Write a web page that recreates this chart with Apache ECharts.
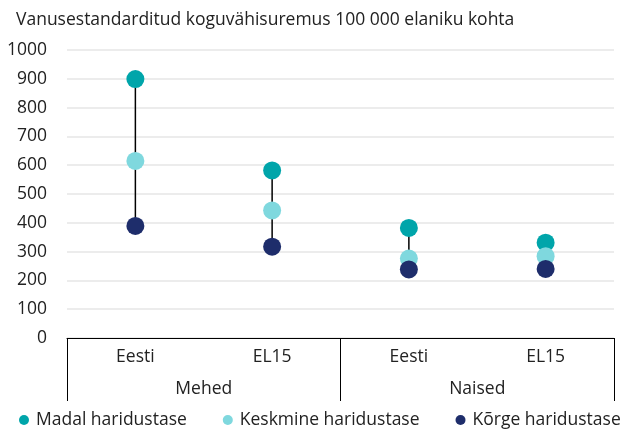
<!DOCTYPE html>
<html>
<head>
<meta charset="utf-8">
<script src="https://cdn.jsdelivr.net/npm/echarts@6/dist/echarts.min.js"></script>
<style>
  html, body { margin: 0; padding: 0; background: #fff; }
  #chart { width: 629px; height: 436px; }
</style>
</head>
<body>
<div id="chart"></div>
<script>
const countries = ['Eesti', 'EL15', 'Eesti', 'EL15'];
const groups = ['Mehed', 'Naised'];
const yTicks = [0, 100, 200, 300, 400, 500, 600, 700, 800, 900, 1000];

const madal = [899, 582, 382, 331];
const keskmine = [615, 443, 276, 284];
const korge = [389, 317, 238, 240];

const names = ['Madal haridustase', 'Keskmine haridustase', 'Kõrge haridustase'];
const colors = ['#00a5aa', '#7fd8de', '#1e2d6b'];

const font = 'Open Sans';
const fs = 17.5;

const ranges = countries.map((c, i) => {
  const v = [madal[i], keskmine[i], korge[i]];
  return [i, Math.min(...v), Math.max(...v)];
});

const chart = echarts.init(document.getElementById('chart'));

const option = {
  animation: false,
  textStyle: { fontFamily: font },
  title: {
    text: 'Vanusestandarditud koguvähisuremus 100 000 elaniku kohta',
    left: 11,
    top: 6,
    textStyle: { fontFamily: font, fontSize: fs, fontWeight: 'normal', color: '#222' }
  },
  legend: {
    bottom: 2,
    left: 14,
    icon: 'circle',
    itemWidth: 10,
    itemHeight: 10,
    itemGap: 36,
    data: names,
    textStyle: { fontFamily: font, fontSize: fs, color: '#222', padding: [0, 0, 0, 2] }
  },
  grid: { left: 67, right: 15, top: 50, bottom: 98 },
  xAxis: [
    {
      type: 'category',
      data: countries,
      axisLine: { show: true, lineStyle: { color: '#000', width: 1 } },
      axisTick: { show: false },
      axisLabel: { fontFamily: font, fontSize: fs, color: '#222', margin: 10 }
    },
    {
      type: 'category',
      data: groups,
      position: 'bottom',
      axisLine: { show: false },
      axisTick: { show: true, length: 63, lineStyle: { color: '#000', width: 1 } },
      axisLabel: { fontFamily: font, fontSize: fs, color: '#222', margin: 42 },
      splitLine: { show: false }
    }
  ],
  yAxis: {
    type: 'value',
    min: yTicks[0],
    max: yTicks[yTicks.length - 1],
    interval: 100,
    axisLine: { show: false },
    axisTick: { show: false },
    axisLabel: {
      fontFamily: font, fontSize: fs, color: '#222', margin: 20,
      formatter: v => String(v)
    },
    splitLine: { lineStyle: { color: '#e6e6e6', width: 1.5 } }
  },
  series: [
    {
      type: 'custom',
      xAxisIndex: 0,
      silent: true,
      data: ranges,
      renderItem: function (params, api) {
        const p1 = api.coord([api.value(0), api.value(1)]);
        const p2 = api.coord([api.value(0), api.value(2)]);
        return {
          type: 'line',
          shape: { x1: p1[0], y1: p1[1], x2: p2[0], y2: p2[1] },
          style: { stroke: '#000', lineWidth: 1.5 }
        };
      },
      z: 1
    },
    {
      name: names[0], type: 'scatter', data: madal, symbolSize: 18,
      itemStyle: { color: colors[0], opacity: 1 }, z: 3
    },
    {
      name: names[1], type: 'scatter', data: keskmine, symbolSize: 18,
      itemStyle: { color: colors[1], opacity: 1 }, z: 4
    },
    {
      name: names[2], type: 'scatter', data: korge, symbolSize: 18,
      itemStyle: { color: colors[2], opacity: 1 }, z: 5
    }
  ]
};

chart.setOption(option);
</script>
</body>
</html>
